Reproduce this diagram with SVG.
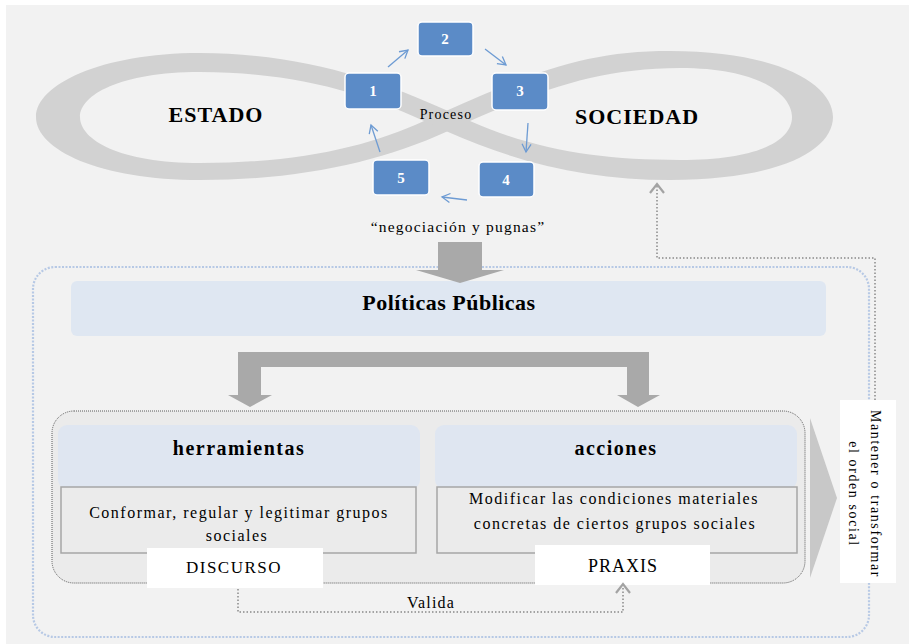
<svg xmlns="http://www.w3.org/2000/svg" width="909" height="644" viewBox="0 0 909 644">
<defs>
<style>
.t{font-family:"Liberation Serif","Times New Roman",serif;fill:#000;text-anchor:middle}
.b{font-weight:bold}
.num{font-family:"Liberation Serif","Times New Roman",serif;font-weight:bold;font-size:15px;fill:#fff;text-anchor:middle}
.blue{fill:#5b8bc7;stroke:#ffffff;stroke-width:1.5}
.barrow{fill:none;stroke:#6d9bd3;stroke-width:1.3}
.gdot{fill:none;stroke:#a3a3a3;stroke-width:2;stroke-dasharray:1.5 2}
.hdr{fill:#dfe6f1}
.body{fill:#ebebeb;stroke:#a6a6a6;stroke-width:1.5}
.big{fill:#a9a9a9}
.lbl{fill:#ffffff}
</style>
<marker id="bhead" markerUnits="userSpaceOnUse" markerWidth="12" markerHeight="12" refX="9" refY="5" orient="auto" viewBox="0 0 12 10">
<path d="M1,0.5 L9,5 L1,9.5" fill="none" stroke="#6d9bd3" stroke-width="1.3"/>
</marker>
<marker id="ghead" markerUnits="userSpaceOnUse" markerWidth="12" markerHeight="18" refX="10" refY="8" orient="auto" viewBox="0 0 12 16">
<path d="M1,1 L10,8 L1,15" fill="none" stroke="#a3a3a3" stroke-width="2.2"/>
</marker>
</defs>

<rect x="6" y="5" width="903" height="639" fill="#f2f2f2"/>

<g id="infinito" fill="#d2d2d2" fill-rule="evenodd">
<path d="M470,121 L447,110.5 C380,80 300,53 200,53 C100,53 36,85 36,117 C36,150 100,180 200,180 C300,180 380,162 447,131.5 Z M424,121 C370,96 300,72 200,72 C120,72 80,95 80,117 C80,140 120,163 200,163 C300,163 370,146 424,121 Z"/>
<path d="M424,121 L447,110.5 C540,69 590,51 670,51 C780,51 833,85 833,117 C833,150 780,180 670,180 C590,180 520,164 447,131.5 Z M470,121 C540,90 600,68 680,68 C760,68 792,95 792,117 C792,140 760,160 680,160 C600,160 535,150 470,121 Z"/>
</g>

<g id="estado"><text class="t b" x="216" y="122" font-size="22" letter-spacing="1">ESTADO</text></g>
<g id="sociedad"><text class="t b" x="637" y="124" font-size="22" letter-spacing="1">SOCIEDAD</text></g>
<g id="proceso"><text class="t" x="446" y="119" font-size="14" letter-spacing="1.2">Proceso</text></g>

<g id="paso1"><rect class="blue" x="345" y="73" width="56" height="36" rx="4"/><text class="num" x="373" y="96">1</text></g>
<g id="paso2"><rect class="blue" x="418" y="22" width="55" height="34" rx="4"/><text class="num" x="445" y="44">2</text></g>
<g id="paso3"><rect class="blue" x="492" y="73" width="56" height="37" rx="4"/><text class="num" x="520" y="96">3</text></g>
<g id="paso4"><rect class="blue" x="479" y="162" width="55" height="35" rx="4"/><text class="num" x="506" y="185">4</text></g>
<g id="paso5"><rect class="blue" x="373" y="160" width="56" height="35" rx="4"/><text class="num" x="401" y="183">5</text></g>

<g id="negociacion"><text class="t" x="458" y="232" font-size="15.5" letter-spacing="1.2">“negociación y pugnas”</text></g>

<g id="politicas"><rect x="71" y="281" width="755" height="55" rx="6" fill="#dfe7f2"/><text class="t b" x="449" y="310" font-size="22" letter-spacing="0.5">Políticas Públicas</text></g>

<g id="contenedor"><rect x="33" y="267" width="836" height="370" rx="22" fill="none" stroke="#b7c9e5" stroke-width="2.2" stroke-dasharray="2 1.5"/></g>

<g id="grupo"><rect x="52" y="411" width="753" height="172" rx="22" fill="#ebebeb" stroke="#5a5a5a" stroke-width="1" stroke-dasharray="1 1"/></g>

<g id="herramientas">
<rect class="hdr" x="58" y="425" width="362" height="64" rx="9"/>
<text class="t b" x="239" y="455" font-size="20" letter-spacing="1.5">herramientas</text>
<rect class="body" x="61" y="487" width="355" height="66"/>
<text class="t" x="239" y="518" font-size="16" letter-spacing="1.5">Conformar, regular y legitimar grupos</text>
<text class="t" x="237" y="541" font-size="16" letter-spacing="1.5">sociales</text>
</g>

<g id="acciones">
<rect class="hdr" x="435" y="425" width="362" height="64" rx="9"/>
<text class="t b" x="616" y="455" font-size="20" letter-spacing="1.5">acciones</text>
<rect class="body" x="437" y="487" width="360" height="66"/>
<text class="t" x="614" y="504" font-size="16" letter-spacing="1.5">Modificar las condiciones materiales</text>
<text class="t" x="615" y="529" font-size="16" letter-spacing="1.5">concretas de ciertos grupos sociales</text>
</g>

<g id="discurso"><rect class="lbl" x="147" y="548" width="176" height="40"/><text class="t" x="234" y="573" font-size="17" letter-spacing="1.5">DISCURSO</text></g>
<g id="praxis"><rect class="lbl" x="535" y="545" width="175" height="40"/><text class="t" x="623" y="572" font-size="18" letter-spacing="1">PRAXIS</text></g>

<g id="orden">
<rect class="lbl" x="840" y="400" width="56" height="183"/>
<text class="t" transform="translate(871,494) rotate(90)" font-size="14" letter-spacing="1.6">Mantener o transformar</text>
<text class="t" transform="translate(849,494) rotate(90)" font-size="14" letter-spacing="1.6">el orden social</text>
</g>

<g id="valida"><text class="t" x="431" y="608" font-size="16" letter-spacing="1.2">Valida</text></g>

<g id="conectores">
<path class="barrow" d="M388,67 L408,50" marker-end="url(#bhead)"/>
<path class="barrow" d="M485,49 L506,65" marker-end="url(#bhead)"/>
<path class="barrow" d="M528,123 L526,152" marker-end="url(#bhead)"/>
<path class="barrow" d="M467,200 L442,197" marker-end="url(#bhead)"/>
<path class="barrow" d="M380,152 L371,125" marker-end="url(#bhead)"/>
<polygon class="big" points="438,242 482,242 482,270 504,270 460,283 416,270 438,270"/>
<path class="big" d="M238,352 H649 V395 H660 L638,407 L617,395 H627 V367 H261 V395 H272 L250,407 L228,395 H238 Z"/>
<polygon points="810,418 837,498 810,578" fill="#c8c8c8"/>
<path class="gdot" d="M875,400 V258 H657 V184" marker-end="url(#ghead)"/>
<path class="gdot" d="M238,589 V612 H623 V584" marker-end="url(#ghead)"/>
</g>
</svg>
